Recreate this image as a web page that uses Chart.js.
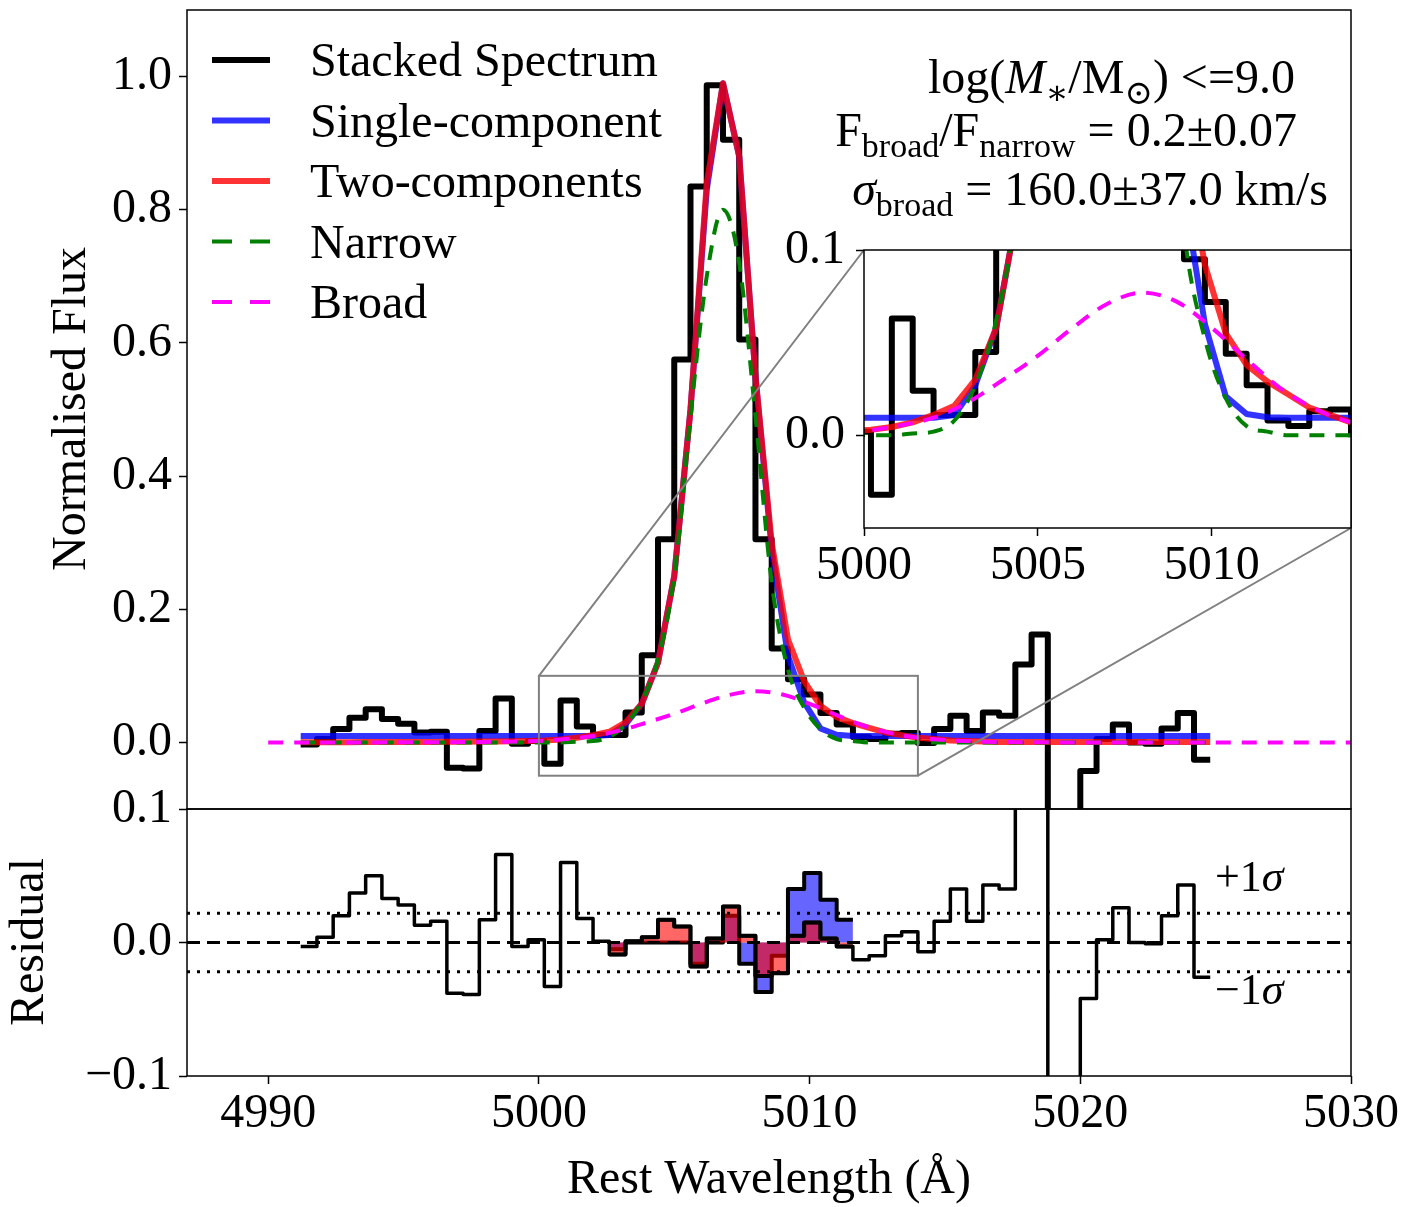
<!DOCTYPE html>
<html>
<head>
<meta charset="utf-8">
<script src="https://cdn.jsdelivr.net/npm/chart.js@4.4.1/dist/chart.umd.min.js"></script>
<style>
  html, body { margin: 0; padding: 0; background: #fff; }
  #wrap { position: relative; width: 1406px; height: 1207px; overflow: hidden; background: #fff; }
  canvas { position: absolute; }
  #mainChart { left: 0; top: 0; z-index: 2; }
  #residChart { left: 0; top: 770px; z-index: 1; }
  #insetChart { left: 700px; top: 200px; z-index: 3; }
</style>
</head>
<body>
<div id="wrap">
  <canvas id="mainChart" width="1406" height="820"></canvas>
  <canvas id="residChart" width="1406" height="437"></canvas>
  <canvas id="insetChart" width="706" height="420"></canvas>
</div>
<script>
// wavelength grid (left bin edges, Angstrom)
const wavelength = [
  4991.2, 4991.8, 4992.4, 4993.0, 4993.6, 4994.2, 4994.8, 4995.4, 4996.0, 4996.6,
  4997.2, 4997.8, 4998.4, 4999.0, 4999.6, 5000.2, 5000.8, 5001.4, 5002.0, 5002.6,
  5003.2, 5003.8, 5004.4, 5005.0, 5005.6, 5006.2, 5006.8, 5007.4, 5008.0, 5008.6,
  5009.2, 5009.8, 5010.4, 5011.0, 5011.6, 5012.2, 5012.8, 5013.4, 5014.0, 5014.6,
  5015.2, 5015.8, 5016.4, 5017.0, 5017.6, 5018.2, 5018.8, 5019.4, 5020.0, 5020.6,
  5021.2, 5021.8, 5022.4, 5023.0, 5023.6, 5024.2, 5024.8
];

const stackedFlux = [
  -0.003, 0.005, 0.02, 0.037, 0.05, 0.035, 0.028, 0.015, 0.016, -0.038,
  -0.039, 0.017, 0.066, -0.002, 0.002, -0.032, 0.063, 0.024, 0.011, 0.011,
  0.045, 0.131, 0.305, 0.575, 0.835, 0.987, 0.905, 0.605, 0.305, 0.141,
  0.095, 0.072, 0.044, 0.027, 0.008, 0.005, 0.013, 0.014, -0.001, 0.02,
  0.04, 0.017, 0.045, 0.04, 0.117, 0.162, -0.3, -0.25, -0.043, 0.005,
  0.027, 0.0, -0.002, 0.021, 0.044, -0.026, -0.026
];

const singleFit = [
  0.0095, 0.0095, 0.0095, 0.0095, 0.0095, 0.0095, 0.0095, 0.0095, 0.0095, 0.0095,
  0.0095, 0.0095, 0.0095, 0.0095, 0.0095, 0.0095, 0.0095, 0.0095, 0.0095, 0.011,
  0.027, 0.058, 0.12, 0.25, 0.5, 0.83, 0.99, 0.88, 0.55, 0.29,
  0.13, 0.06, 0.021, 0.0115, 0.0098, 0.0095, 0.0095, 0.0095, 0.0095, 0.0095,
  0.0095, 0.0095, 0.0095, 0.0095, 0.0095, 0.0095, 0.0095, 0.0095, 0.0095, 0.0095,
  0.0095, 0.0095, 0.0095, 0.0095, 0.0095, 0.0095, 0.0095
];

const twoCompFit = [
  0.0003, 0.0003, 0.0004, 0.0004, 0.0005, 0.0005, 0.0006, 0.0007, 0.0008, 0.0009,
  0.001, 0.0012, 0.0014, 0.0017, 0.0022, 0.003, 0.0045, 0.007, 0.011, 0.016,
  0.03, 0.058, 0.12, 0.25, 0.5, 0.84, 0.99, 0.88, 0.55, 0.30,
  0.155, 0.092, 0.055, 0.038, 0.029, 0.022, 0.015, 0.011, 0.007, 0.005,
  0.003, 0.002, 0.0012, 0.0008, 0.0005, 0.0005, 0.0005, 0.0005, 0.0005, 0.0005,
  0.0005, 0.0005, 0.0005, 0.0005, 0.0005, 0.0005, 0.0005
];

const narrowComp = [
  0, 0, 0, 0, 0, 0, 0, 0, 0, 0,
  0, 0, 0, 0, 0, 0, 0, 0.001, 0.002, 0.008,
  0.027, 0.062, 0.125, 0.25, 0.49, 0.70, 0.80, 0.72, 0.49, 0.24,
  0.11, 0.052, 0.02, 0.005, 0.002, 0, 0, 0, 0, 0,
  0, 0, 0, 0, 0, 0, 0, 0, 0, 0,
  0, 0, 0, 0, 0, 0, 0
];

// broad component is plotted on its own, wider grid
const broadWave = [4990, 4995, 4998, 5000, 5001, 5002, 5003, 5004, 5005, 5006, 5007, 5008,
  5009, 5010, 5011, 5012, 5013, 5014, 5016, 5018, 5020, 5025, 5030];
const broadComp = [0.0, 0.0001, 0.0008, 0.0023, 0.0052, 0.0095, 0.018, 0.030, 0.043, 0.058, 0.071, 0.077,
  0.072, 0.058, 0.041, 0.025, 0.014, 0.007, 0.0015, 0.0003, 0.0, 0.0, 0.0];

// residual (data - two-component model)
const residualTwo = [
  -0.003, 0.004, 0.02, 0.037, 0.05, 0.033, 0.028, 0.013, 0.016, -0.038,
  -0.039, 0.017, 0.066, -0.003, 0.002, -0.033, 0.06, 0.018, 0.001, -0.009,
  0.001, 0.004, 0.017, 0.012, -0.018, 0.003, 0.027, 0.005, -0.025, -0.023,
  0.005, 0.015, 0.003, -0.003, -0.013, -0.01, 0.005, 0.008, -0.007, 0.016,
  0.04, 0.016, 0.043, 0.04, 0.12, 0.16, -0.3, -0.25, -0.042, 0.002,
  0.026, 0.0, -0.001, 0.02, 0.043, -0.026, -0.026
];

// shaded residuals around the line
const fillWave = [5002.6, 5003.2, 5003.8, 5004.4, 5005.0, 5005.6, 5006.2, 5006.8,
  5007.4, 5008.0, 5008.6, 5009.2, 5009.8, 5010.4, 5011.0, 5011.6];
const residSingleFill = [-0.005, 0, 0, 0, 0, -0.016, 0, 0.02,
  -0.016, -0.037, -0.01, 0.04, 0.052, 0.032, 0.017, 0.017];
const residTwoFill = [-0.009, 0.001, 0.004, 0.017, 0.012, -0.018, 0.003, 0.027,
  0.005, -0.025, -0.023, 0.005, 0.015, 0.003, -0.003, -0.003];

const sigmaLevel = 0.022;

const mainYTicks = [0, 0.2, 0.4, 0.6, 0.8, 1.0];
const residYTicks = [-0.1, 0, 0.1];
const xTicks = [4990, 5000, 5010, 5020, 5030];
const insetXTicks = [5000, 5005, 5010];
const insetYTicks = [0, 0.1];

const legendLabels = ['Stacked Spectrum', 'Single-component', 'Two-components', 'Narrow', 'Broad'];

const FONT = '"Liberation Serif", "DejaVu Serif", serif';
const INSET_LEFT = 700, INSET_TOP = 200;

const colBlack = '#000000';
const colSingle = 'rgba(0,0,255,0.8)';
const colTwo = 'rgba(255,0,0,0.8)';
const colNarrow = '#008000';
const colBroad = '#ff00ff';
const dashPat = [15, 11];

function toPoints(xs, ys) {
  return xs.map((x, i) => ({ x: x, y: ys[i] }));
}

function fmtTick(v) {
  const s = Math.abs(v).toFixed(1);
  return v < -1e-9 ? '\u2212' + s : s;
}

function richText(ctx, parts, x, y, size, align) {
  const pieces = parts.map(function (p) {
    const sub = p[1] === 's';
    const sz = sub ? Math.round(size * 0.7) : size;
    const font = (p[1] === 'i' ? 'italic ' : '') + sz + 'px ' + FONT;
    ctx.font = font;
    return { t: p[0], font: font, w: ctx.measureText(p[0]).width, dy: sub ? size * 0.22 : 0 };
  });
  const total = pieces.reduce((a, p) => a + p.w, 0);
  let cx = align === 'right' ? x - total : x;
  ctx.textAlign = 'left';
  ctx.textBaseline = 'alphabetic';
  ctx.fillStyle = '#000';
  pieces.forEach(function (p) {
    ctx.font = p.font;
    ctx.fillText(p.t, cx, y + p.dy);
    cx += p.w;
  });
}

function spectrumDatasets() {
  return [
    { data: toPoints(broadWave, broadComp), borderColor: colBroad, borderWidth: 4, borderDash: dashPat,
      cubicInterpolationMode: 'monotone', order: 1 },
    { data: toPoints(wavelength, narrowComp), borderColor: colNarrow, borderWidth: 4, borderDash: dashPat,
      cubicInterpolationMode: 'monotone', order: 2 },
    { data: toPoints(wavelength, twoCompFit), borderColor: colTwo, borderWidth: 6, order: 3 },
    { data: toPoints(wavelength, singleFit), borderColor: colSingle, borderWidth: 6, order: 4 },
    { data: toPoints(wavelength, stackedFlux), borderColor: colBlack, borderWidth: 6, stepped: true, order: 5 }
  ];
}

// fixed axis sizes so all three panels line up with the reference
function yAxis(min, max, ticks, width, pad) {
  return {
    type: 'linear', min: min, max: max,
    afterBuildTicks: s => { s.ticks = ticks.map(v => ({ value: v })); },
    afterFit: s => { s.width = width; s.paddingTop = 0; s.paddingBottom = 0; },
    ticks: { font: { family: FONT, size: 48 }, color: '#000', padding: pad, callback: v => fmtTick(v) },
    grid: { drawOnChartArea: false, drawTicks: true, tickLength: 8, tickWidth: 1.5, tickColor: '#000' },
    border: { display: false }
  };
}

function xAxis(min, max, ticks, height, pad) {
  return {
    type: 'linear', min: min, max: max,
    afterBuildTicks: s => { s.ticks = ticks.map(v => ({ value: v })); },
    afterFit: s => { s.height = height; s.paddingLeft = 0; s.paddingRight = 0; },
    ticks: { font: { family: FONT, size: 48 }, color: '#000', padding: pad, maxRotation: 0, callback: v => String(v) },
    grid: { drawOnChartArea: false, drawTicks: true, tickLength: 8, tickWidth: 1.5, tickColor: '#000' },
    border: { display: false }
  };
}

const baseOptions = {
  responsive: false,
  animation: false,
  devicePixelRatio: 1,
  events: [],
  elements: { point: { radius: 0 }, line: { tension: 0, capBezierPoints: false, borderJoinStyle: 'round' } },
  plugins: { legend: { display: false }, tooltip: { enabled: false } }
};

const framePlugin = {
  id: 'frame',
  afterDatasetsDraw(chart) {
    const a = chart.chartArea, ctx = chart.ctx;
    ctx.save();
    ctx.strokeStyle = '#000';
    ctx.lineWidth = 1.5;
    ctx.strokeRect(a.left, a.top, a.right - a.left, a.bottom - a.top);
    ctx.restore();
  }
};

// ---------- inset ----------
const insetChart = new Chart(document.getElementById('insetChart'), {
  type: 'line',
  data: { datasets: spectrumDatasets() },
  options: Object.assign({}, baseOptions, {
    layout: { padding: { left: 0, right: 55, top: 50, bottom: 0 } },
    scales: {
      x: xAxis(5000, 5014, insetXTicks, 92, 2),
      y: yAxis(-0.05, 0.1, insetYTicks, 164, 11)
    }
  }),
  plugins: [{
    id: 'insetBg',
    beforeDatasetsDraw(chart) {
      const a = chart.chartArea, ctx = chart.ctx;
      ctx.save();
      ctx.fillStyle = '#fff';
      ctx.fillRect(a.left, a.top, a.right - a.left, a.bottom - a.top);
      ctx.restore();
    }
  }, framePlugin]
});

// ---------- main panel ----------
const mainChart = new Chart(document.getElementById('mainChart'), {
  type: 'line',
  data: { datasets: spectrumDatasets() },
  options: Object.assign({}, baseOptions, {
    layout: { padding: { left: 0, right: 55, top: 10, bottom: 11 } },
    scales: {
      x: { type: 'linear', min: 4987, max: 5030, display: false },
      y: yAxis(-0.1, 1.1, mainYTicks, 187, 7)
    }
  }),
  plugins: [framePlugin, {
    id: 'decor',
    afterDatasetsDraw(chart) {
      const ctx = chart.ctx, xs = chart.scales.x, ys = chart.scales.y;
      // zoom indicator and connectors
      const x0 = xs.getPixelForValue(5000), x1 = xs.getPixelForValue(5014);
      const y0 = ys.getPixelForValue(0.1), y1 = ys.getPixelForValue(-0.05);
      const ia = insetChart.chartArea;
      ctx.save();
      ctx.strokeStyle = '#808080';
      ctx.lineWidth = 2;
      ctx.strokeRect(x0, y0, x1 - x0, y1 - y0);
      ctx.beginPath();
      ctx.moveTo(x0, y0); ctx.lineTo(INSET_LEFT + ia.left, INSET_TOP + ia.top);
      ctx.moveTo(x1, y1); ctx.lineTo(INSET_LEFT + ia.right, INSET_TOP + ia.bottom);
      ctx.stroke();
      ctx.restore();
    },
    afterDraw(chart) {
      const ctx = chart.ctx;
      ctx.save();
      // legend
      const legDash = [20, 18];
      const styles = [
        { c: colBlack, w: 6, d: [] }, { c: colSingle, w: 6, d: [] }, { c: colTwo, w: 6, d: [] },
        { c: colNarrow, w: 4, d: legDash }, { c: colBroad, w: 4, d: legDash }
      ];
      legendLabels.forEach(function (lab, i) {
        const yc = 60 + i * 60.5;
        ctx.strokeStyle = styles[i].c;
        ctx.lineWidth = styles[i].w;
        ctx.setLineDash(styles[i].d);
        ctx.beginPath();
        ctx.moveTo(212, yc); ctx.lineTo(270, yc);
        ctx.stroke();
        ctx.setLineDash([]);
        ctx.fillStyle = '#000';
        ctx.font = '48px ' + FONT;
        ctx.textAlign = 'left';
        ctx.textBaseline = 'alphabetic';
        ctx.fillText(lab, 310, yc + 16);
      });
      // annotation
      richText(ctx, [['log(', 'r'], ['M', 'i'], ['\u2217', 's'], ['/M', 'r'], ['\u2299', 's'], [') <=9.0', 'r']],
        1295, 93, 48, 'right');
      richText(ctx, [['F', 'r'], ['broad', 's'], ['/F', 'r'], ['narrow', 's'], [' = 0.2\u00b10.07', 'r']],
        1297, 146, 48, 'right');
      richText(ctx, [['\u03c3', 'i'], ['broad', 's'], [' = 160.0\u00b137.0 km/s', 'r']],
        1328, 205, 48, 'right');
      // y title
      ctx.translate(72, 409);
      ctx.rotate(-Math.PI / 2);
      ctx.font = '48px ' + FONT;
      ctx.textAlign = 'center';
      ctx.textBaseline = 'middle';
      ctx.fillStyle = '#000';
      ctx.fillText('Normalised Flux', 0, 0);
      ctx.restore();
    }
  }]
});

// ---------- residual panel ----------
const residChart = new Chart(document.getElementById('residChart'), {
  type: 'line',
  data: {
    datasets: [
      { data: toPoints(wavelength, residualTwo), borderColor: colBlack, borderWidth: 3.5, stepped: true, order: 1 },
      { data: toPoints([4987, 5030], [0, 0]), borderColor: '#000', borderWidth: 3, borderDash: [13, 7], order: 2 },
      { data: toPoints([4987, 5030], [sigmaLevel, sigmaLevel]), borderColor: '#000', borderWidth: 3,
        borderDash: [3, 7], order: 2 },
      { data: toPoints([4987, 5030], [-sigmaLevel, -sigmaLevel]), borderColor: '#000', borderWidth: 3,
        borderDash: [3, 7], order: 2 },
      { data: toPoints(fillWave, residTwoFill), borderColor: '#000', borderWidth: 4, stepped: true,
        fill: 'origin', backgroundColor: 'rgba(255,0,0,0.6)', order: 3 },
      { data: toPoints(fillWave, residSingleFill), borderColor: '#000', borderWidth: 4, stepped: true,
        fill: 'origin', backgroundColor: 'rgba(0,0,255,0.6)', order: 4 }
    ]
  },
  options: Object.assign({}, baseOptions, {
    layout: { padding: { left: 0, right: 55, top: 39, bottom: 0 } },
    scales: {
      x: xAxis(4987, 5030, xTicks, 131, 2),
      y: yAxis(-0.1, 0.1, residYTicks, 187, 7)
    }
  }),
  plugins: [framePlugin, {
    id: 'residDecor',
    afterDraw(chart) {
      const ctx = chart.ctx, ys = chart.scales.y;
      ctx.save();
      richText(ctx, [['+1', 'r'], ['\u03c3', 'i']], 1215, ys.getPixelForValue(sigmaLevel) - 22, 44, 'left');
      richText(ctx, [['\u22121', 'r'], ['\u03c3', 'i']], 1215, ys.getPixelForValue(-sigmaLevel) + 32, 44, 'left');
      ctx.font = '48px ' + FONT;
      ctx.fillStyle = '#000';
      ctx.textAlign = 'center';
      ctx.textBaseline = 'alphabetic';
      ctx.fillText('Rest Wavelength (\u00c5)', 769, 423);
      ctx.translate(30, 172);
      ctx.rotate(-Math.PI / 2);
      ctx.textBaseline = 'middle';
      ctx.fillText('Residual', 0, 0);
      ctx.restore();
    }
  }]
});
</script>
</body>
</html>
